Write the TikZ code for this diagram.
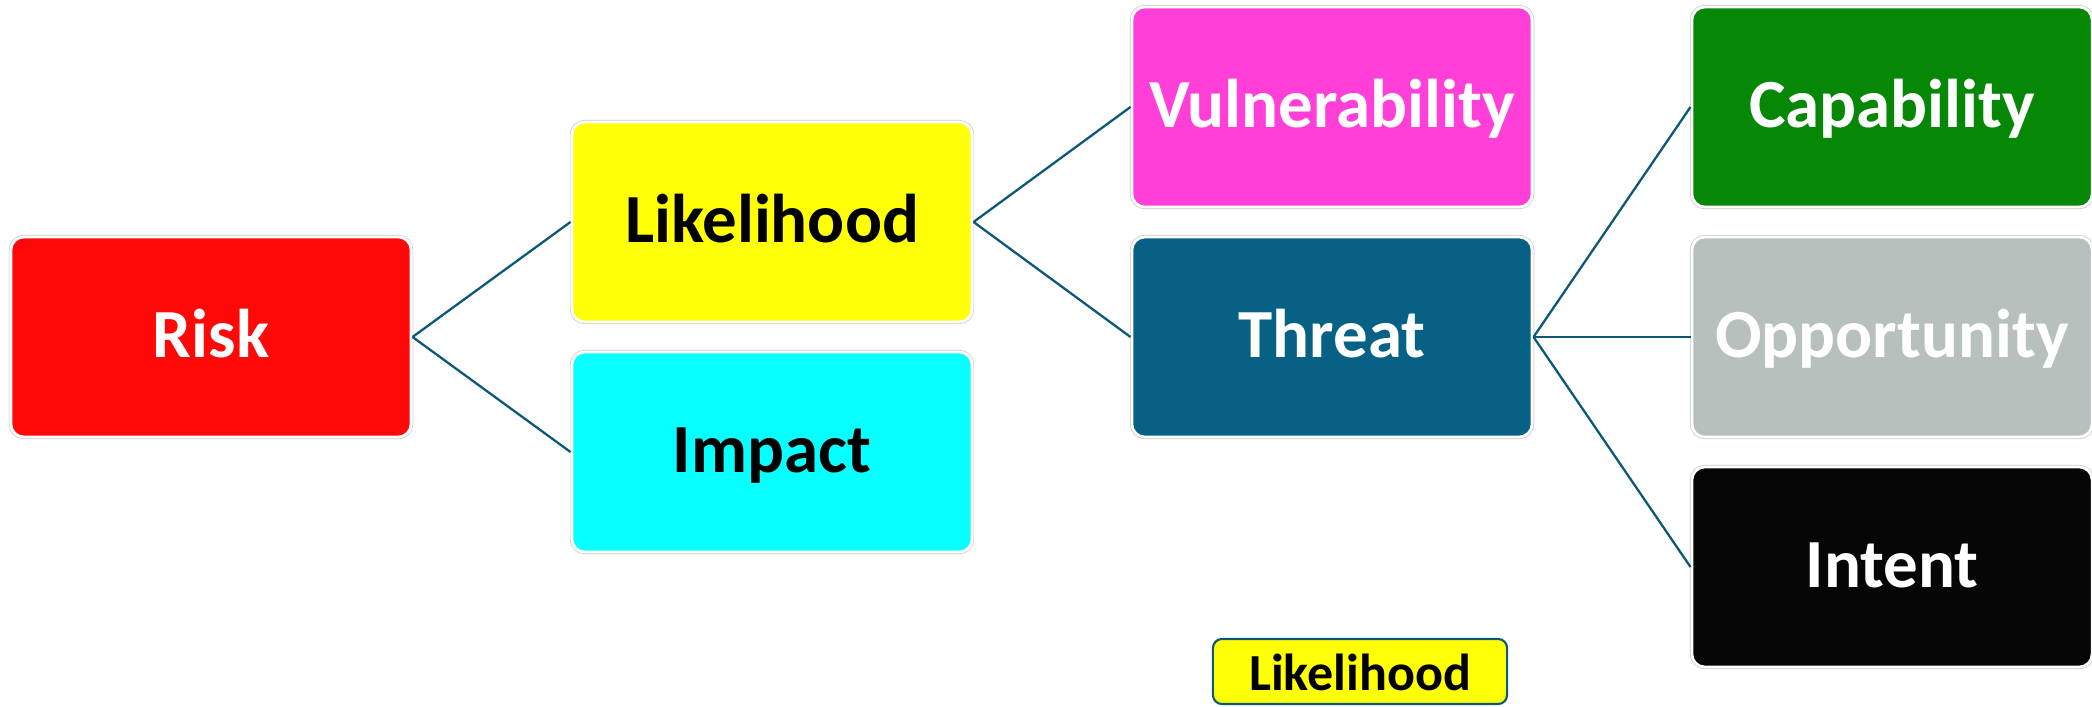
\documentclass[tikz,border=0pt]{standalone}
\usepackage{fontspec}
\setmainfont{Carlito}
\definecolor{riskred}{HTML}{FF0808}
\definecolor{likeyellow}{HTML}{FFFF08}
\definecolor{impactcyan}{HTML}{08FFFF}
\definecolor{vulnpink}{HTML}{FF3FD8}
\definecolor{threatblue}{HTML}{066185}
\definecolor{capgreen}{HTML}{068706}
\definecolor{oppgray}{HTML}{B8C0BE}
\definecolor{intentblack}{HTML}{060606}
\definecolor{linkblue}{HTML}{0D5777}
\begin{document}
\begin{tikzpicture}[x=0.01cm,y=-0.01cm, every node/.style={font=\bfseries\fontsize{19.6}{24}\selectfont},
  box/.style={rounded corners=0.13cm, minimum width=4cm, minimum height=2cm, inner sep=0pt,
    text height=0.45cm, text depth=0.05cm, draw=white, line width=0.8pt,
    preaction={draw=black!22, line width=1.2pt}},
  link/.style={draw=linkblue, line width=0.65pt}]
\useasboundingbox (0,0) rectangle (2092,707);
\node[box,fill=riskred,text=white] (risk) at (211,337) {Risk};
\node[box,fill=likeyellow] (likelihood) at (772,222) {Likelihood};
\node[box,fill=impactcyan] (impact) at (772,452) {Impact};
\node[box,fill=vulnpink,text=white] (vulnerability) at (1332,107) {Vulnerability};
\node[box,fill=threatblue,text=white] (threat) at (1332,337) {Threat};
\node[box,fill=capgreen,text=white] (capability) at (1892,107) {Capability};
\node[box,fill=oppgray,text=white] (opportunity) at (1892,337) {Opportunity};
\node[box,fill=intentblack,text=white] (intent) at (1892,567) {Intent};
\node[draw=linkblue, fill=likeyellow, line width=0.6pt, rounded corners=0.09cm,
  minimum width=2.94cm, minimum height=0.65cm, inner sep=0pt, text height=0.37cm, text depth=0pt,
  font=\bfseries\fontsize{14.8}{18}\selectfont] (key) at (1360,671.5) {Likelihood};
\draw[link] (risk.east) -- (likelihood.west);
\draw[link] (risk.east) -- (impact.west);
\draw[link] (likelihood.east) -- (vulnerability.west);
\draw[link] (likelihood.east) -- (threat.west);
\draw[link] (threat.east) -- (capability.west);
\draw[link] (threat.east) -- (opportunity.west);
\draw[link] (threat.east) -- (intent.west);
\end{tikzpicture}
\end{document}
